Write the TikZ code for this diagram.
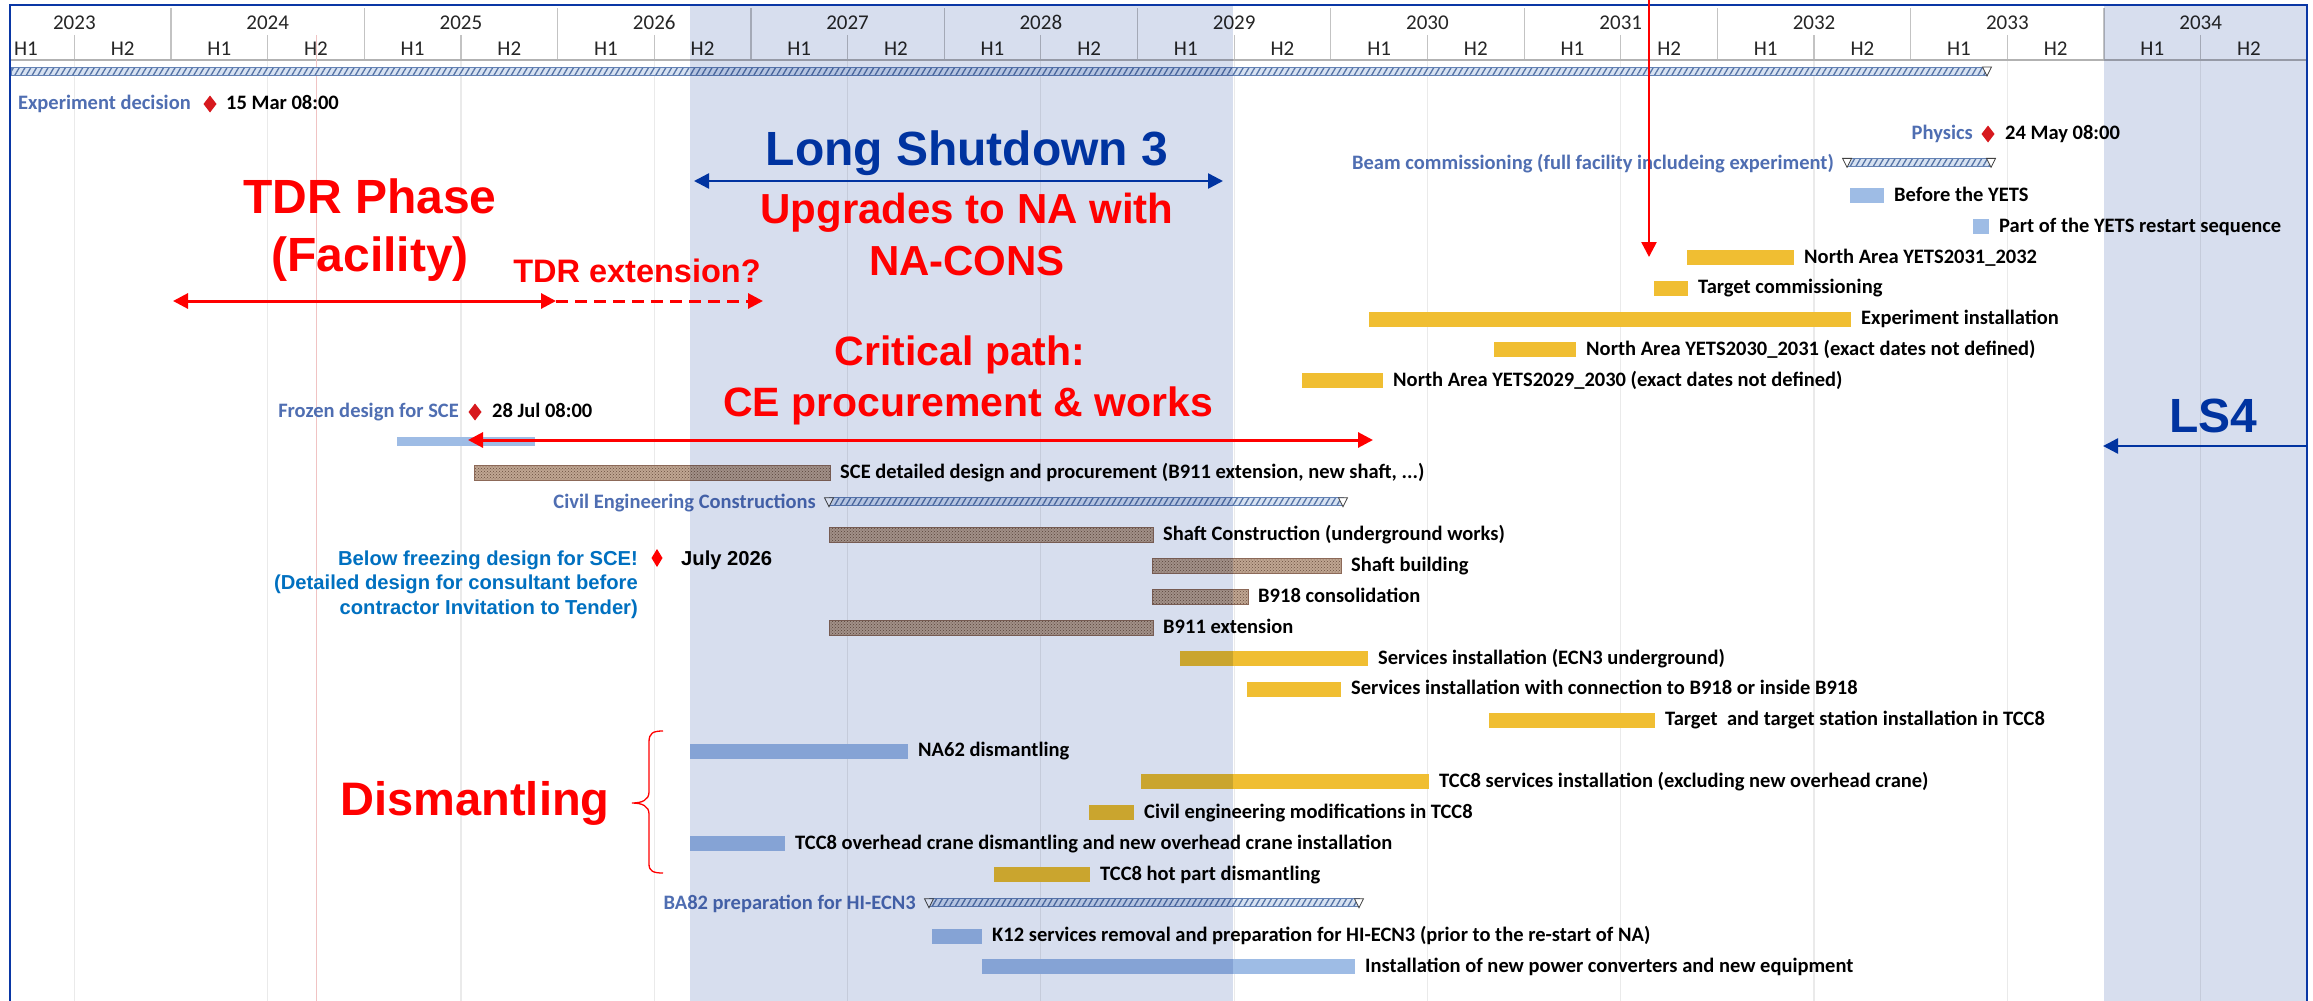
\documentclass[tikz,border=0pt]{standalone}
\usepackage{fontspec}
\setmainfont{Carlito}
\newfontfamily\arialfont{Liberation Sans}
\usetikzlibrary{arrows.meta,patterns,patterns.meta}

\definecolor{frameblue}{RGB}{10,55,165}
\definecolor{lsblue}{RGB}{0,51,160}
\definecolor{sumblue}{RGB}{79,110,178}
\definecolor{belowblue}{RGB}{0,112,192}
\definecolor{barblue}{RGB}{158,188,229}
\definecolor{yellowc}{RGB}{240,190,50}
\definecolor{cetan}{RGB}{192,166,146}
\definecolor{cedark}{RGB}{105,78,62}
\definecolor{ceedge}{RGB}{140,105,88}
\definecolor{sumfill}{RGB}{215,226,242}
\definecolor{sumline}{RGB}{85,115,165}
\definecolor{sumedge}{RGB}{100,130,180}
\definecolor{msred}{RGB}{215,25,30}
\definecolor{shadec}{RGB}{215,222,238}
\definecolor{gridc}{RGB}{234,234,234}
\definecolor{hdrc}{RGB}{195,195,195}
\definecolor{statusred}{RGB}{240,195,195}

\newcommand\lblfont{\fontsize{20.5}{24}\selectfont\bfseries}
\newcommand\hdrfont{\fontsize{21}{24}\selectfont}
\newcommand\bigfont[1]{\arialfont\bfseries\fontsize{#1}{#1}\selectfont}
\newcommand\notefont{\arialfont\bfseries\fontsize{20.2}{24}\selectfont}

\tikzset{
  >={Triangle[length=15pt,width=15pt]},
  lbl/.style={font=\lblfont, inner sep=0pt, text height=13.2pt, text depth=0pt, anchor=west},
  lblr/.style={lbl, anchor=east},
  sumlbl/.style={lblr, text=sumblue},
  hdr/.style={font=\hdrfont, inner sep=0pt, text height=13.5pt, text depth=0pt, text=black!85},
  hdrline/.style={draw=hdrc, line width=1.2pt},
  gridline/.style={draw=gridc, line width=1.2pt},
  bluebar/.style={fill=barblue},
  yellowbar/.style={fill=yellowc},
  cebar/.style={preaction={fill=cetan}, pattern=crosshatch dots, pattern color=cedark, draw=ceedge, line width=0.8pt},
  sumbar/.style={preaction={fill=sumfill}, pattern={Lines[angle=60,distance=5pt,line width=1.3pt]}, pattern color=sumline, draw=sumedge, line width=0.8pt},
  bigred/.style={text=red, inner sep=0pt, anchor=base},
  bigblue/.style={text=lsblue, inner sep=0pt, anchor=base},
  redarrow/.style={draw=red, line width=3pt},
  bluearrow/.style={draw=lsblue, line width=2.5pt},
  note/.style={font=\notefont, text=belowblue, inner sep=0pt, text height=14.5pt, text depth=0pt, anchor=east}
}

% task bar: style, x1, x2, row, name, text
\newcommand\gtask[6]{%
  \pgfmathsetmacro\gy{134+30.85*(#4)}%
  \path[#1] (#2,\gy-7.5) rectangle (#3,\gy+7.5);%
  \node[lbl] (#5) at (#3+10,\gy-1) {#6};%
}
\newcommand\gtri[2]{\draw[fill=white, draw=black!75, line width=0.8pt] (#1-4.5,#2) -- (#1+4.5,#2) -- (#1,#2+9) -- cycle;}
% summary bar: x1, x2, row, name, text
\newcommand\gsum[5]{%
  \pgfmathsetmacro\gy{134+30.85*(#3)}%
  \path[sumbar] (#1,\gy-6.5) rectangle (#2,\gy+1.5);%
  \gtri{#1}{\gy-6.5}\gtri{#2}{\gy-6.5}%
  \node[sumlbl] (#4) at (#1-13,\gy-2) {#5};%
}
\newcommand\gdia[2]{\fill[msred] (#1,#2-8.5) -- (#1+6.5,#2) -- (#1,#2+8.5) -- (#1-6.5,#2) -- cycle;}

\begin{document}
\begin{tikzpicture}[x=1pt,y=-1pt]
\useasboundingbox (0,0) rectangle (2313,1001);
\fill[white] (0,0) rectangle (2313,1001);

\begin{scope}
\clip (10,5) rectangle (2307,1001);
% header and grid
\foreach \i in {0,...,11}{
  \pgfmathsetmacro\xs{-22.3+193.3*\i}
  \pgfmathtruncatemacro\yr{2023+\i}
  \node[hdr] (yr\i) at (\xs+96.65,23) {\yr};
  \node[hdr] (ha\i) at (\xs+48.3,49) {H1};
  \node[hdr] (hb\i) at (\xs+145,49) {H2};
  \ifnum\i>0 \draw[hdrline] (\xs,8) -- (\xs,60); \fi
  \draw[hdrline] (\xs+96.65,35) -- (\xs+96.65,60);
  \draw[gridline] (\xs+96.65,61) -- (\xs+96.65,1001);
}
\draw[draw=black!30, line width=1.2pt] (10,60) -- (2307,60);
\draw[draw=statusred, line width=1pt] (316,35) -- (316,1001);

% project summary
\path[sumbar] (11,67) rectangle (1987,75);
\gtri{1987}{67}

% milestones
\node[sumlbl] (expdec) at (191,103) {Experiment decision};
\gdia{210}{104}
\node[lbl] (expdate) at (226,103) {15 Mar 08:00};
\node[sumlbl] (phys) at (1973,133) {Physics};
\gdia{1988}{134}
\node[lbl] (physdate) at (2005,133) {24 May 08:00};

\gsum{1847}{1991}{1}{beam}{Beam commissioning (full facility includeing experiment)}
\gtask{bluebar}{1850}{1884}{2}{yets}{Before the YETS}
\gtask{bluebar}{1973}{1989}{3}{restart}{Part of the YETS restart sequence}
\gtask{yellowbar}{1687}{1794}{4}{y3132}{North Area YETS2031\_2032}
\gtask{yellowbar}{1654}{1688}{5}{tcomm}{Target commissioning}
\gtask{yellowbar}{1369}{1851}{6}{expinst}{Experiment installation}
\gtask{yellowbar}{1494}{1576}{7}{y3031}{North Area YETS2030\_2031 (exact dates not defined)}
\gtask{yellowbar}{1302}{1383}{8}{y2930}{North Area YETS2029\_2030 (exact dates not defined)}

\node[sumlbl] (frozen) at (459,411) {Frozen design for SCE};
\gdia{475}{412}
\node[lbl] (frozdate) at (492,411) {28 Jul 08:00};
\fill[barblue] (397,437) rectangle (535,446);

\gtask{cebar}{474}{830}{11}{sce}{SCE detailed design and procurement (B911 extension, new shaft, ...)}
\gsum{829}{1343}{12}{cec}{Civil Engineering Constructions}
\gtask{cebar}{829}{1153}{13}{shaftc}{Shaft Construction (underground works)}
\gtask{cebar}{1152}{1341}{14}{shaftb}{Shaft building}
\gtask{cebar}{1152}{1248}{15}{b918}{B918 consolidation}
\gtask{cebar}{829}{1153}{16}{b911}{B911 extension}
\gtask{yellowbar}{1180}{1368}{17}{serv1}{Services installation (ECN3 underground)}
\gtask{yellowbar}{1247}{1341}{18}{serv2}{Services installation with connection to B918 or inside B918}
\gtask{yellowbar}{1489}{1655}{19}{target}{Target\ \ and target station installation in TCC8}
\gtask{bluebar}{690}{908}{20}{na62}{NA62 dismantling}
\gtask{yellowbar}{1141}{1429}{21}{tccserv}{TCC8 services installation (excluding new overhead crane)}
\gtask{yellowbar}{1089}{1134}{22}{civmod}{Civil engineering modifications in TCC8}
\gtask{bluebar}{690}{785}{23}{crane}{TCC8 overhead crane dismantling and new overhead crane installation}
\gtask{yellowbar}{994}{1090}{24}{hotpart}{TCC8 hot part dismantling}
\gsum{929}{1359}{25}{ba82}{BA82 preparation for HI-ECN3}
\gtask{bluebar}{932}{982}{26}{k12}{K12 services removal and preparation for HI-ECN3 (prior to the re-start of NA)}
\gtask{bluebar}{982}{1355}{27}{power}{Installation of new power converters and new equipment}

% long shutdown shading (multiplied over the chart)
\begin{scope}[blend mode=multiply]
\fill[shadec] (690,5) rectangle (1233,1001);
\fill[shadec] (2104,5) rectangle (2307,1001);
\end{scope}
\end{scope}

% frame
\draw[draw=frameblue, line width=2.5pt] (10,1001) -- (10,5) -- (2307,5) -- (2307,1001);

% annotations
\node[bigred, font=\bigfont{48}] (tdr1) at (370,213) {TDR Phase};
\node[bigred, font=\bigfont{48}] (tdr2) at (370,271) {(Facility)};
\node[bigred, font=\bigfont{32.5}] (tdrx) at (637,282) {TDR extension?};
\coordinate (tdrA) at (173,301);
\coordinate (tdrB) at (556,301);
\coordinate (tdrC) at (763,301);
\draw[redarrow, <->] (tdrA) -- (tdrB);
\draw[redarrow, dash pattern=on 12pt off 7pt, ->] (tdrB) -- (tdrC);

\node[bigblue, font=\bigfont{48}] (ls3) at (967,165) {Long Shutdown 3};
\coordinate (lsA) at (694,181);
\coordinate (lsB) at (1223,181);
\draw[bluearrow, <->] (lsA) -- (lsB);
\node[bigred, font=\bigfont{42}] (up1) at (967,223) {Upgrades to NA with};
\node[bigred, font=\bigfont{42}] (up2) at (967,275) {NA-CONS};

\node[bigred, font=\bigfont{41}] (cp1) at (960,365) {Critical path:};
\node[bigred, font=\bigfont{41}] (cp2) at (968,416) {CE procurement \& works};
\coordinate (cpA) at (468,440);
\coordinate (cpB) at (1373,440);
\draw[redarrow, <->] (cpA) -- (cpB);

\node[note] (bf1) at (638,558) {Below freezing design for SCE!};
\node[note] (bf2) at (638,582) {(Detailed design for consultant before};
\node[note] (bf3) at (638,607) {contractor Invitation to Tender)};
\fill[red] (657,549) -- (662.5,558) -- (657,567) -- (651.5,558) -- cycle;
\node[note, text=black, anchor=west] (jul) at (681,558) {July 2026};

\node[bigred, font=\bigfont{47}] (dism) at (475,815) {Dismantling};
\coordinate (brT) at (663,731);
\coordinate (brM) at (632,803);
\coordinate (brB) at (663,873);
\draw[red, line width=1.3pt]
  (brT) .. controls (653,731) and (649,733) .. (649,742)
  -- (649,792) .. controls (649,800) and (642,803) .. (brM)
  .. controls (642,803) and (649,806) .. (649,814)
  -- (649,864) .. controls (649,871) and (653,873) .. (brB);

\node[bigblue, font=\bigfont{48}] (ls4) at (2213,432) {LS4};
\coordinate (ls4A) at (2307,446);
\coordinate (ls4B) at (2103,446);
\draw[bluearrow, ->] (ls4A) -- (ls4B);

\coordinate (vA) at (1649,0);
\coordinate (vB) at (1649,257);
\draw[red, line width=2.5pt, ->] (vA) -- (vB);
\end{tikzpicture}
\end{document}
